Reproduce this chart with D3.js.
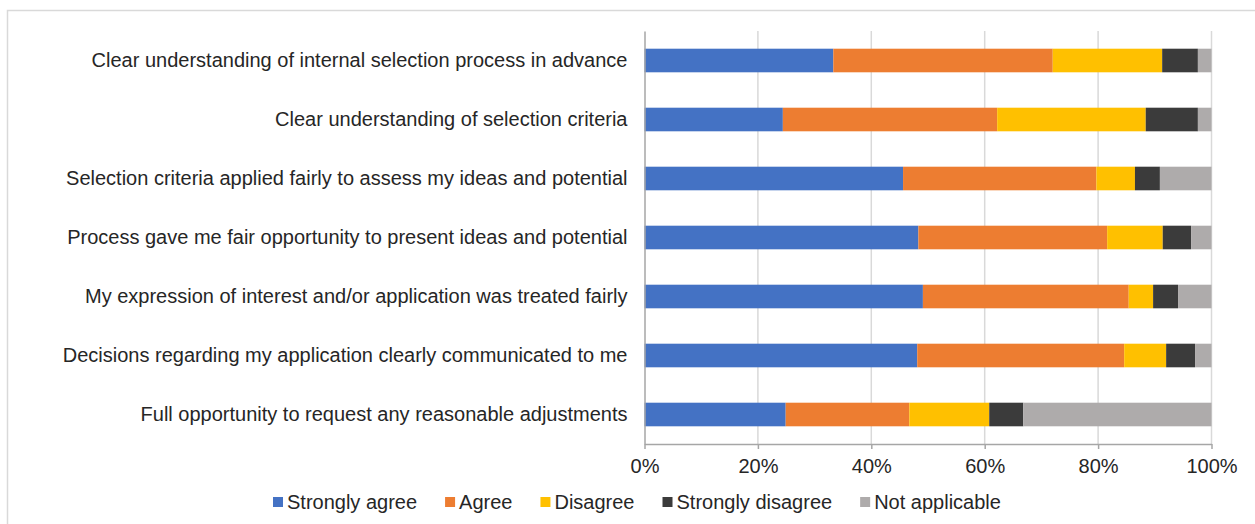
<!DOCTYPE html>
<html>
<head>
<meta charset="utf-8">
<script src="https://cdn.jsdelivr.net/npm/d3@7"></script>
<style>
  html, body { margin: 0; padding: 0; background: #fff; }
  svg { display: block; font-family: "Liberation Sans", Arial, sans-serif; }
</style>
</head>
<body>
<svg id="chart" width="1255" height="524"></svg>
<script>
// Survey statements, top to bottom
const categories = [
  "Clear understanding of internal selection process in advance",
  "Clear understanding of selection criteria",
  "Selection criteria applied fairly to assess my ideas and potential",
  "Process gave me fair opportunity to present ideas and potential",
  "My expression of interest and/or application was treated fairly",
  "Decisions regarding my application clearly communicated to me",
  "Full opportunity to request any reasonable adjustments"
];

const seriesNames = ["Strongly agree", "Agree", "Disagree", "Strongly disagree", "Not applicable"];

// Share of responses (%) per statement, in category order
const stronglyAgree    = [33.3, 24.4, 45.6, 48.3, 49.1, 48.1, 24.9];
const agree            = [38.7, 37.8, 34.1, 33.3, 36.3, 36.5, 21.8];
const disagree         = [19.3, 26.2, 6.8, 9.8, 4.3, 7.4, 14.1];
const stronglyDisagree = [6.3, 9.2, 4.4, 5.0, 4.4, 5.1, 6.0];
const notApplicable    = [2.4, 2.4, 9.1, 3.6, 5.9, 2.9, 33.2];

const tickValues = [0, 20, 40, 60, 80, 100];

const colors = ["#4472C4", "#ED7D31", "#FFC000", "#3B3B3B", "#AEABAB"];

const rows = categories.map((c, i) => ({
  category: c,
  "Strongly agree": stronglyAgree[i],
  "Agree": agree[i],
  "Disagree": disagree[i],
  "Strongly disagree": stronglyDisagree[i],
  "Not applicable": notApplicable[i]
}));

const svg = d3.select("#chart");

// outer chart frame
svg.append("rect")
  .attr("x", 7.5).attr("y", 10.5)
  .attr("width", 1400).attr("height", 700)
  .attr("fill", "none").attr("stroke", "#d9d9d9").attr("stroke-width", 1.5);

const plot = { left: 644.5, right: 1211.5, top: 31, bottom: 444 };

const x = d3.scaleLinear().domain([0, 100]).range([plot.left, plot.right]);
const y = d3.scaleBand().domain(categories)
  .range([plot.top, plot.bottom])
  .paddingInner(0.6).paddingOuter(0.3);

// vertical gridlines
svg.append("g")
  .selectAll("line")
  .data(tickValues.filter(d => d > 0))
  .join("line")
  .attr("x1", d => x(d)).attr("x2", d => x(d))
  .attr("y1", plot.top).attr("y2", plot.bottom)
  .attr("stroke", "#d9d9d9").attr("stroke-width", 1.5);

// stacked bars
const stack = d3.stack().keys(seriesNames);
const layers = stack(rows);

svg.append("g")
  .selectAll("g")
  .data(layers)
  .join("g")
  .attr("fill", (d, i) => colors[i])
  .selectAll("rect")
  .data(d => d)
  .join("rect")
  .attr("x", d => x(d[0]))
  .attr("width", d => x(d[1]) - x(d[0]))
  .attr("y", d => y(d.data.category))
  .attr("height", y.bandwidth());

// bottom axis
const xAxis = d3.axisBottom(x)
  .tickValues(tickValues)
  .tickFormat(d => d + "%")
  .tickSize(5)
  .tickSizeOuter(0)
  .tickPadding(10);

const gx = svg.append("g")
  .attr("transform", `translate(0,${plot.bottom})`)
  .call(xAxis);
gx.select(".domain").attr("stroke", "#a6a6a6").attr("stroke-width", 1.5);
gx.selectAll(".tick line").attr("stroke", "#a6a6a6").attr("stroke-width", 1.5);
gx.selectAll(".tick text")
  .attr("font-size", 20)
  .attr("fill", "#262626")
  .attr("font-family", "Liberation Sans, Arial, sans-serif");

// left axis with category labels
const yAxis = d3.axisLeft(y).tickSize(0).tickPadding(17);
const gy = svg.append("g")
  .attr("transform", `translate(${plot.left},0)`)
  .call(yAxis);
gy.select(".domain").attr("stroke", "#a6a6a6").attr("stroke-width", 1.5);
gy.selectAll(".tick text")
  .attr("font-size", 20)
  .attr("fill", "#262626")
  .attr("font-family", "Liberation Sans, Arial, sans-serif");

// legend
const legend = svg.append("g").attr("transform", "translate(273,502)");
let lx = 0;
seriesNames.forEach((name, i) => {
  const item = legend.append("g").attr("transform", `translate(${lx},0)`);
  item.append("rect")
    .attr("x", 0).attr("y", -5)
    .attr("width", 10).attr("height", 10)
    .attr("fill", colors[i]);
  const t = item.append("text")
    .attr("x", 14).attr("y", 0)
    .attr("dy", "0.35em")
    .attr("font-size", 20)
    .attr("fill", "#262626")
    .text(name);
  lx += 14 + t.node().getComputedTextLength() + 28;
});
</script>
</body>
</html>
